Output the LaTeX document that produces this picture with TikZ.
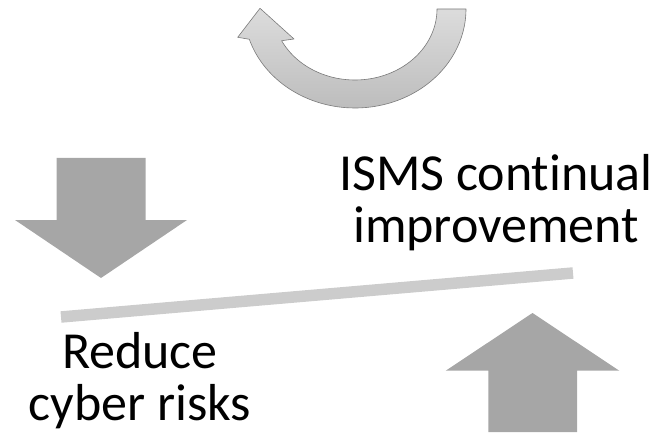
\documentclass[tikz,border=0pt]{standalone}
\usepackage{fontspec}
\setmainfont{Carlito}[Ligatures=NoCommon]
\begin{document}
\begin{tikzpicture}[x=1pt,y=-1pt,
  blockarrow/.style={fill=arrowgray,draw=none},
  cyclearrow/.style={top color=cyclelight,bottom color=cycledark,draw=cycleedge,line width=0.6pt,line join=round},
  caption/.style={font=\fontsize{52}{52}\selectfont,align=center,inner sep=0pt,anchor=base}
]
\definecolor{arrowgray}{HTML}{A6A6A6}
\definecolor{barcolor}{HTML}{CCCCCC}
\definecolor{cyclelight}{HTML}{DCDCDC}
\definecolor{cycledark}{HTML}{BDBDBD}
\definecolor{cycleedge}{HTML}{7A7A7A}
\useasboundingbox (0,0) rectangle (657,436);

% curved arrow: half of an elliptic ring, head pointing up on the left
\path[cyclearrow]
  plot[domain=0:162.2,samples=80,smooth] ({355+111*cos(\x)},{9+99*sin(\x)})
  -- (237.7,37.3) -- (260,8.3) -- (294,39) -- (281.7,40.7)
  -- plot[domain=153.5:0,samples=80,smooth] ({355+82*cos(\x)},{9+71*sin(\x)})
  -- cycle;

% block arrow pointing down
\path[blockarrow] (56.5,158) -- (145.5,158) -- (145.5,220) -- (187,220)
  -- (101,278) -- (15,220) -- (56.5,220) -- cycle;

% block arrow pointing up
\path[blockarrow] (488.3,432) -- (488.3,370.7) -- (445.7,370.7) -- (532.5,313)
  -- (619.3,370.7) -- (577,370.7) -- (577,432) -- cycle;

% balance bar
\coordinate (barL) at (61,317);
\coordinate (barR) at (573,273);
\draw[barcolor,line width=11.5pt] (barL) -- (barR);

% captions (base anchor sits on the last line)
\node[caption] (isms) at (496,242) {ISMS continual\\improvement};
\node[caption] (risk) at (140,420) {Reduce\\cyber risks};
\end{tikzpicture}
\end{document}
